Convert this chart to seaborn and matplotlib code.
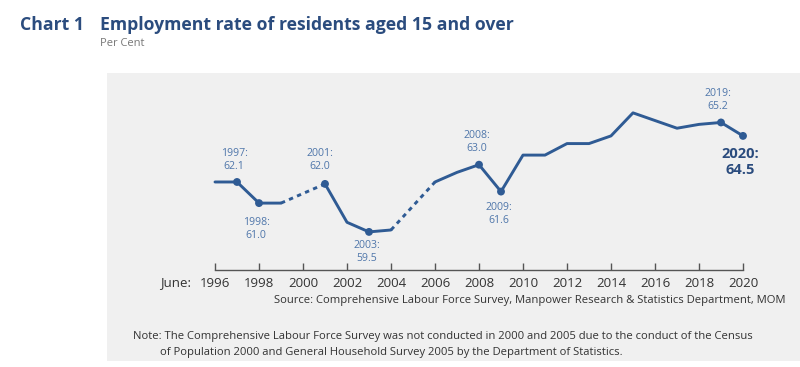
import numpy as np
import pandas as pd
import matplotlib
matplotlib.use("Agg")
import matplotlib.pyplot as plt
from matplotlib.patches import Rectangle
import seaborn as sns

# employment rate (%), June of each year; no survey in 2000 and 2005
years = [1996, 1997, 1998, 1999, 2001, 2002, 2003, 2004,
         2006, 2007, 2008, 2009, 2010, 2011, 2012, 2013,
         2014, 2015, 2016, 2017, 2018, 2019, 2020]
rate = [62.1, 62.1, 61.0, 61.0, 62.0, 60.0, 59.5, 59.6,
        62.1, 62.6, 63.0, 61.6, 63.5, 63.5, 64.1, 64.1,
        64.5, 65.7, 65.3, 64.9, 65.1, 65.2, 64.5]

# segments between survey gaps
segments = [(1996, 1999), (2001, 2004), (2006, 2020)]
gaps = [(1999, 2001), (2004, 2006)]

# labelled points and label offsets (pixels)
marked = [1997, 1998, 2001, 2003, 2008, 2009, 2019, 2020]
label_offsets = {1997: (-3, 22), 1998: (-3, -26), 2001: (-5, 24), 2003: (-2, -20),
                 2008: (-2, 23), 2009: (-2, -22), 2019: (-3, 22)}

tick_years = list(range(1996, 2021, 2))

df = pd.DataFrame({"year": years, "rate": rate})

LINE = "#2f5b94"
TITLE = "#2b4c7e"
LABEL = "#4f76aa"

sns.set_style("white")
plt.rcParams["font.family"] = ["Open Sans", "DejaVu Sans"]

fig = plt.figure(figsize=(8, 3.67), dpi=100)
fig.patches.append(Rectangle((107 / 800, 1 - 361 / 367), 693 / 800, 288 / 367,
                             transform=fig.transFigure, facecolor="#f0f0f0",
                             edgecolor="none", zorder=-1))

ax = fig.add_axes([215 / 800, 1 - 270.3 / 367, 528 / 800, 182.4 / 367])
ax.patch.set_alpha(0)
ax.set_zorder(2)

for a, b in segments:
    seg = df[(df.year >= a) & (df.year <= b)]
    sns.lineplot(data=seg, x="year", y="rate", ax=ax, color=LINE, lw=2.1,
                 clip_on=False)
for a, b in gaps:
    seg = df[df.year.isin([a, b])]
    sns.lineplot(data=seg, x="year", y="rate", ax=ax, color=LINE, lw=2.1,
                 linestyle=(0, (1.5, 1.5)), clip_on=False)

pts = df[df.year.isin(marked)]
sns.scatterplot(data=pts, x="year", y="rate", ax=ax, color=LINE, s=32,
                edgecolor="none", zorder=5, clip_on=False)

for y, v in zip(years, rate):
    if y in label_offsets:
        ax.annotate(f"{y}:\n{v:.1f}", (y, v), xytext=label_offsets[y],
                    textcoords="offset pixels", ha="center", va="center",
                    fontsize=7.6, color=LABEL, linespacing=1.25)
v20 = rate[years.index(2020)]
ax.annotate(f"2020:\n{v20:.1f}", (2020, v20), xytext=(-3, -26),
            textcoords="offset pixels", ha="center", va="center",
            fontsize=10.5, fontweight="bold", color=TITLE, linespacing=1.15)

ax.set_xlim(1996, 2020)
ax.set_ylim(57.5, 67.0)
for s in ["top", "right", "left"]:
    ax.spines[s].set_visible(False)
ax.spines["bottom"].set_color("#555555")
ax.spines["bottom"].set_linewidth(1)
ax.set_yticks([])
ax.set_xticks(tick_years)
ax.set_xticklabels([str(t) for t in tick_years])
ax.tick_params(axis="x", bottom=True, direction="in", length=5, width=1,
               color="#555555", labelsize=9.5, labelcolor="#333333", pad=5)
ax.set_xlabel("")
ax.set_ylabel("")

fig.text(160 / 800, 1 - 283 / 367, "June:", fontsize=9.5, color="#333333",
         ha="left", va="center")

fig.text(20 / 800, 1 - 25 / 367, "Chart 1", fontsize=12.7, fontweight="bold",
         color=TITLE, ha="left", va="center")
fig.text(100 / 800, 1 - 25 / 367, "Employment rate of residents aged 15 and over",
         fontsize=12.7, fontweight="bold", color=TITLE, ha="left", va="center")
fig.text(100 / 800, 1 - 44 / 367, "Per Cent", fontsize=8, color="#777777",
         ha="left", va="center")

fig.text(786 / 800, 1 - 300 / 367,
         "Source: Comprehensive Labour Force Survey, Manpower Research & Statistics Department, MOM",
         fontsize=8.1, color="#333333", ha="right", va="center")
fig.text(133 / 800, 1 - 337 / 367,
         "Note: The Comprehensive Labour Force Survey was not conducted in 2000 and 2005 due to the conduct of the Census",
         fontsize=8.1, color="#333333", ha="left", va="center")
fig.text(160 / 800, 1 - 352 / 367,
         "of Population 2000 and General Household Survey 2005 by the Department of Statistics.",
         fontsize=8.1, color="#333333", ha="left", va="center")

fig.savefig("out.png", dpi=100)
